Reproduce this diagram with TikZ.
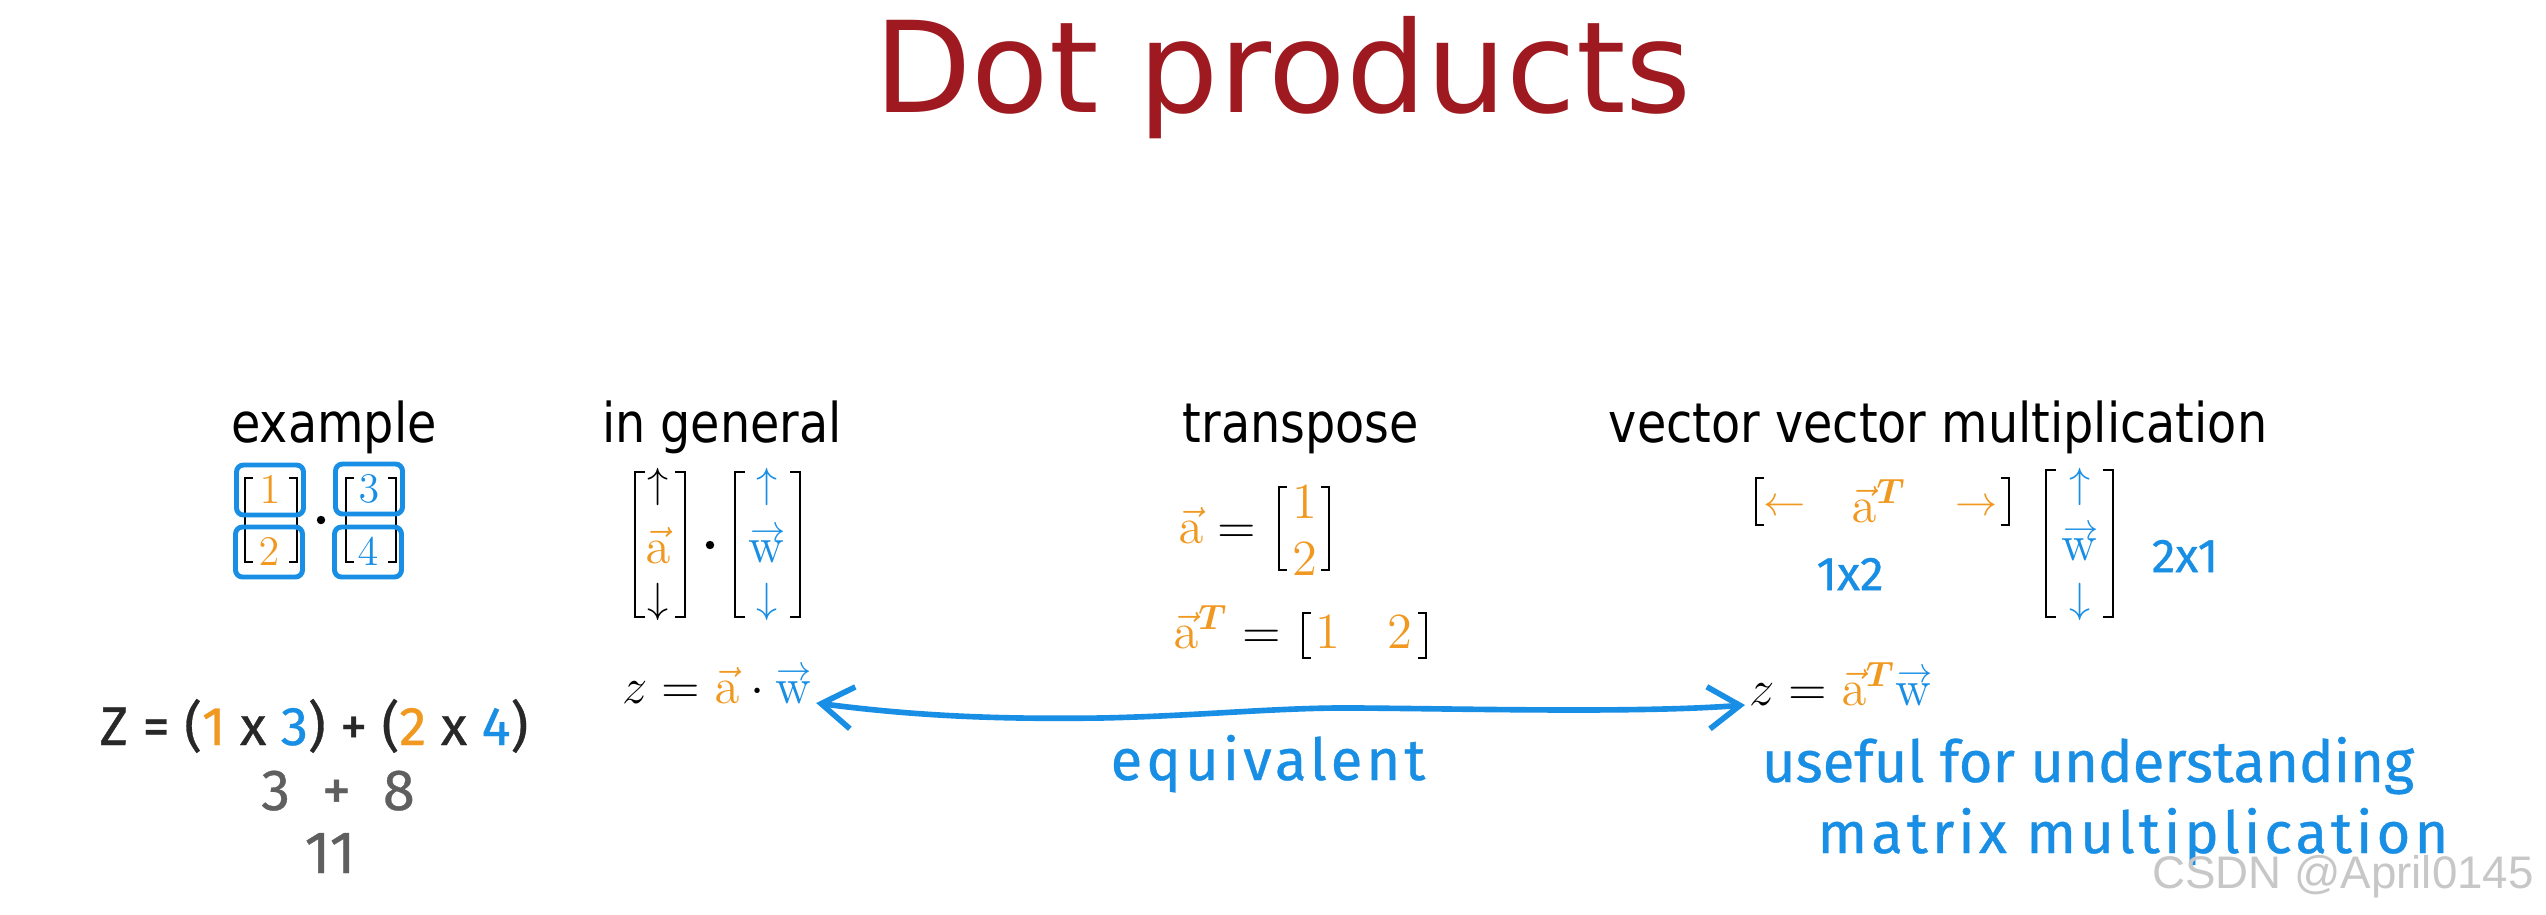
\documentclass[tikz,border=0pt]{standalone}
\usepackage{amsmath}
\usepackage{bm}
\usepackage[no-math]{fontspec}
\newfontfamily\fonttitolo{DejaVu Sans}
\newfontfamily\fontintest{DejaVu Sans}[FakeStretch=0.87]
\newfontfamily\fontmano{Fira Sans}[FakeBold=0.6]
\newfontfamily\fontmanolarga{Fira Sans}[LetterSpace=7, FakeBold=0.6]
\newfontfamily\fontfili{Liberation Sans}
\usetikzlibrary{arrows.meta}

\definecolor{rossotitolo}{RGB}{158,26,32}
\definecolor{arancio}{RGB}{240,152,32}
\definecolor{blu}{RGB}{24,142,228}
\definecolor{grigio}{RGB}{95,95,95}
\definecolor{inchiostro}{RGB}{40,40,40}

% w con la freccia lunga quanto la lettera
\newcommand{\vecw}{\mathrm{w}\llap{\raisebox{6.3pt}{$\scriptstyle\rightarrow$}}}

\begin{document}
\begin{tikzpicture}[
    x=1cm, y=-1cm,
    titolo/.style={font=\fonttitolo\fontsize{36}{40}\selectfont, text=rossotitolo, inner sep=0pt},
    intest/.style={font=\fontintest\fontsize{15.6}{18}\selectfont, text=black, inner sep=0pt},
    mat/.style={font=\fontsize{14}{17}\selectfont, inner sep=1pt},
    segno/.style={font=\fontsize{11.5}{14}\selectfont, inner sep=0pt},
    riquadro/.style={draw=blu, line width=1.4pt, rounded corners=2pt, minimum width=0.67cm, minimum height=0.50cm, inner sep=0pt, font=\fontsize{12.5}{15}\selectfont},
    parentesi/.style={draw=black, line width=0.7pt},
    prodotto/.style={circle, fill=black, inner sep=0pt, minimum size=2.4pt},
    mano/.style={font=\fontmano\fontsize{16.5}{20}\selectfont, text=inchiostro, inner sep=0pt},
    freccia/.style={<->, >={Straight Barb[length=9pt, width=12pt]}, draw=blu, line width=1.6pt, line cap=round},
    filigrana/.style={font=\fontfili\fontsize{13}{15}\selectfont, text=black!22, inner sep=0pt}
]

    % 0. Cornice (proporzioni 2546x914)
    \useasboundingbox[fill=white] (0,0) rectangle (25.46,9.14);

    % 1. Titolo
    \node[titolo, anchor=base] (titolo) at (12.83,1.12) {Dot products};

    % 2. Intestazioni delle quattro colonne
    \node[intest, anchor=base] (hEs)  at (3.34,4.42)  {example};
    \node[intest, anchor=base] (hGen) at (7.22,4.42)  {in general};
    \node[intest, anchor=base] (hTr)  at (13.01,4.42) {transpose};
    \node[intest, anchor=base] (hVv)  at (19.38,4.42) {vector vector multiplication};

    % 3. Esempio numerico
    % parentesi dei due vettori colonna
    \draw[parentesi] (2.53,4.78) -- (2.45,4.78) -- (2.45,5.62) -- (2.53,5.62);
    \draw[parentesi] (2.89,4.78) -- (2.97,4.78) -- (2.97,5.62) -- (2.89,5.62);
    \draw[parentesi] (3.54,4.78) -- (3.46,4.78) -- (3.46,5.62) -- (3.54,5.62);
    \draw[parentesi] (3.88,4.78) -- (3.96,4.78) -- (3.96,5.62) -- (3.88,5.62);
    % componenti riquadrate
    \node[riquadro, text=arancio] (E1) at (2.70,4.90) {$1$};
    \node[riquadro, text=arancio] (E2) at (2.69,5.52) {$2$};
    \node[riquadro, text=blu]     (E3) at (3.69,4.89) {$3$};
    \node[riquadro, text=blu]     (E4) at (3.68,5.52) {$4$};
    \node[prodotto] (pE) at (3.21,5.20) {};
    % calcolo a mano
    \node[mano, font=\fontmano\fontsize{15.5}{18}\selectfont, anchor=base] (zEs) at (3.14,7.45)
        {Z = ({\color{arancio}1} x {\color{blu}3}) + ({\color{arancio}2} x {\color{blu}4})};
    \node[mano, text=grigio, anchor=base] (somma) at (3.38,8.10) {3\hspace{0.55em}+\hspace{0.55em}8};
    \node[mano, text=grigio, font=\fontmano\fontsize{17}{20}\selectfont, anchor=base] (ris) at (3.30,8.73) {11};

    % 4. Caso generale
    \draw[parentesi] (6.45,4.72) -- (6.35,4.72) -- (6.35,6.17) -- (6.45,6.17);
    \draw[parentesi] (6.75,4.72) -- (6.85,4.72) -- (6.85,6.17) -- (6.75,6.17);
    \draw[parentesi] (7.45,4.72) -- (7.35,4.72) -- (7.35,6.17) -- (7.45,6.17);
    \draw[parentesi] (7.90,4.72) -- (8.00,4.72) -- (8.00,6.17) -- (7.90,6.17);
    \node[segno]               (uA) at (6.58,4.87) {$\uparrow$};
    \node[mat, text=arancio]   (vA) at (6.58,5.45) {$\vec{\mathrm{a}}$};
    \node[segno]               (dA) at (6.58,6.02) {$\downarrow$};
    \node[prodotto]            (pG) at (7.10,5.45) {};
    \node[segno, text=blu]     (uW) at (7.67,4.87) {$\uparrow$};
    \node[mat, text=blu]       (vW) at (7.67,5.45) {$\vecw$};
    \node[segno, text=blu]     (dW) at (7.67,6.02) {$\downarrow$};
    \node[mat, anchor=base west] (eqA) at (6.18,7.03)
        {$z = {\color{arancio}\vec{\mathrm{a}}}\cdot{\color{blu}\vecw}$};

    % 5. Trasposta
    \node[mat, anchor=base east] (aEq) at (12.60,5.43) {${\color{arancio}\vec{\mathrm{a}}} =$};
    \draw[parentesi] (12.87,4.87) -- (12.79,4.87) -- (12.79,5.70) -- (12.87,5.70);
    \draw[parentesi] (13.21,4.87) -- (13.29,4.87) -- (13.29,5.70) -- (13.21,5.70);
    \node[mat, text=arancio] (t1) at (13.045,5.02) {$1$};
    \node[mat, text=arancio] (t2) at (13.045,5.59) {$2$};
    \node[mat, anchor=base east] (aTEq) at (12.85,6.48) {${\color{arancio}\vec{\mathrm{a}}^{\bm{T}}} =$};
    \draw[parentesi] (13.11,6.13) -- (13.03,6.13) -- (13.03,6.58) -- (13.11,6.58);
    \draw[parentesi] (14.18,6.13) -- (14.26,6.13) -- (14.26,6.58) -- (14.18,6.58);
    \node[mat, text=arancio, anchor=base] (r1) at (13.28,6.48) {$1$};
    \node[mat, text=arancio, anchor=base] (r2) at (14.00,6.48) {$2$};

    % 6. Prodotto vettore per vettore
    \draw[parentesi] (17.64,4.78) -- (17.56,4.78) -- (17.56,5.25) -- (17.64,5.25);
    \draw[parentesi] (20.01,4.78) -- (20.09,4.78) -- (20.09,5.25) -- (20.01,5.25);
    \node[segno, text=arancio] (rl) at (17.85,5.08) {$\leftarrow$};
    \node[mat, text=arancio, anchor=base] (raT) at (18.79,5.22) {$\vec{\mathrm{a}}^{\bm{T}}$};
    \node[segno, text=arancio] (rr) at (19.77,5.08) {$\rightarrow$};
    \node[mano, text=blu, font=\fontmano\fontsize{13.5}{16}\selectfont] (dimA) at (18.50,5.74) {1x2};
    \draw[parentesi] (20.56,4.70) -- (20.46,4.70) -- (20.46,6.17) -- (20.56,6.17);
    \draw[parentesi] (21.03,4.70) -- (21.13,4.70) -- (21.13,6.17) -- (21.03,6.17);
    \node[segno, text=blu] (uW2) at (20.80,4.87) {$\uparrow$};
    \node[mat, text=blu]   (vW2) at (20.80,5.43) {$\vecw$};
    \node[segno, text=blu] (dW2) at (20.80,6.02) {$\downarrow$};
    \node[mano, text=blu, font=\fontmano\fontsize{13.5}{16}\selectfont] (dimW) at (21.85,5.56) {2x1};
    \node[mat, anchor=base west] (eqB) at (17.45,7.05)
        {$z = {\color{arancio}\vec{\mathrm{a}}^{\bm{T}}}{\color{blu}\vecw}$};
    \node[mano, text=blu, anchor=base] (nota1) at (20.88,7.82) {useful for understanding};
    \node[mano, text=blu, font=\fontmanolarga\fontsize{16.5}{20}\selectfont, anchor=base] (nota2) at (21.33,8.53) {matrix multiplication};

    % 7. Freccia di equivalenza
    \draw[freccia] (eqA.base east) .. controls (9.3,7.18) and (10.2,7.19) .. (11.0,7.18)
        .. controls (12.0,7.16) and (12.8,7.07) .. (13.6,7.08)
        .. controls (14.8,7.09) and (16.4,7.13) .. (eqB.base west);
    \node[mano, text=blu, font=\fontmanolarga\fontsize{16.5}{20}\selectfont, anchor=base] (equiv) at (12.68,7.80) {equivalent};

    % 8. Filigrana
    \node[filigrana, anchor=base] (wm) at (23.43,8.88) {CSDN @April0145};

\end{tikzpicture}
\end{document}
